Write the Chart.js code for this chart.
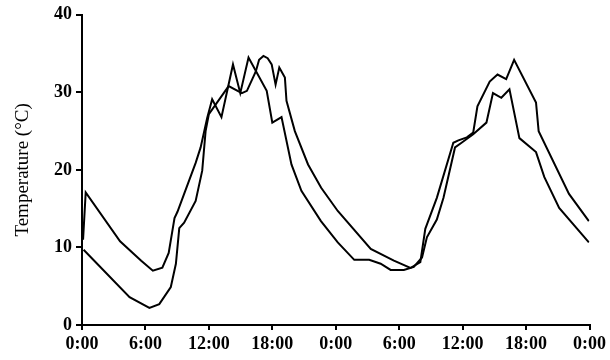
<!DOCTYPE html>
<html><head><meta charset="utf-8">
<script src="https://cdn.jsdelivr.net/npm/chart.js@4/dist/chart.umd.min.js"></script>
<style>html,body{margin:0;padding:0;background:#fff}#wrap{width:610px;height:360px}</style>
</head><body><div id="wrap"><canvas id="c" width="610" height="360"></canvas></div>
<script>
const hoursA = [0.1, 0.35, 3.6, 5.6, 6.7, 7.6, 8.2, 8.75, 9.03, 9.66, 10.75, 11.22, 11.84, 12.31, 13.19, 14.28, 14.97, 15.75, 17.47, 18.0, 18.87, 19.81, 20.75, 22.6, 24.19, 25.75, 27.16, 28.25, 29.19, 30.44, 31.38, 32.16, 32.62, 33.56, 34.19, 35.28, 35.9, 37.0, 38.25, 38.87, 39.66, 40.43, 41.37, 42.94, 43.72, 45.13, 47.94];
const tempA  = [11.0, 17.1, 10.8, 8.3, 7.0, 7.4, 9.3, 13.8, 14.6, 16.9, 20.9, 22.9, 26.7, 29.1, 26.8, 33.6, 29.9, 34.5, 30.2, 26.1, 26.8, 20.7, 17.3, 13.4, 10.65, 8.4, 8.4, 7.9, 7.1, 7.1, 7.5, 8.7, 11.3, 13.6, 16.4, 22.9, 23.5, 24.6, 26.1, 29.9, 29.3, 30.4, 24.1, 22.3, 19.1, 15.1, 10.65];
const hoursB = [0.15, 4.5, 6.375, 7.31, 8.4, 8.88, 9.2, 9.66, 10.75, 11.37, 11.69, 12.0, 13.87, 15.12, 15.6, 16.44, 16.75, 17.16, 17.56, 17.94, 18.31, 18.66, 19.19, 19.34, 20.13, 21.38, 22.62, 24.19, 27.31, 29.5, 31.06, 32.0, 32.47, 33.56, 35.12, 35.6, 36.4, 37.0, 37.4, 38.56, 39.3, 40.12, 40.87, 42.94, 43.19, 46.06, 47.94];
const tempB  = [9.7, 3.6, 2.2, 2.7, 4.9, 7.9, 12.5, 13.2, 16.0, 19.9, 25.0, 27.2, 30.8, 29.9, 30.2, 32.7, 34.2, 34.7, 34.4, 33.6, 31.0, 33.2, 31.9, 28.9, 25.0, 20.7, 17.7, 14.7, 9.8, 8.3, 7.35, 8.1, 12.4, 16.4, 23.5, 23.8, 24.2, 24.8, 28.2, 31.4, 32.3, 31.7, 34.2, 28.7, 25.0, 16.9, 13.4];
const tickHours  = [0, 6, 12, 18, 24, 30, 36, 42, 48];
const tickLabels = ['0:00', '6:00', '12:00', '18:00', '0:00', '6:00', '12:00', '18:00', '0:00'];
const yTicks = [0, 10, 20, 30, 40];
const yTitle = 'Temperature (°C)';

const toPts = (xs, ys) => xs.map((x, i) => ({x: x, y: ys[i]}));
const serif = 'Liberation Serif, Times New Roman, serif';
const lineStyle = {borderColor: '#000', borderWidth: 2, pointRadius: 0, tension: 0, fill: false};

new Chart(document.getElementById('c'), {
  type: 'line',
  data: {datasets: [
    Object.assign({label: 'A', data: toPts(hoursA, tempA)}, lineStyle),
    Object.assign({label: 'B', data: toPts(hoursB, tempB)}, lineStyle)
  ]},
  options: {
    responsive: false, animation: false, devicePixelRatio: 1,
    layout: {padding: {top: 13, right: 16, left: 0, bottom: 0}},
    plugins: {legend: {display: false}, tooltip: {enabled: false}},
    scales: {
      x: {
        type: 'linear', min: 0, max: 48,
        afterBuildTicks: s => { s.ticks = tickHours.map(v => ({value: v})); },
        afterFit: s => { s.height = 35; },
        grid: {display: true, drawOnChartArea: false, drawTicks: true, tickLength: 5, color: '#000', lineWidth: 2},
        border: {display: true, color: '#000', width: 2},
        ticks: {color: '#000', padding: 4, maxRotation: 0, autoSkip: false,
          font: {family: serif, size: 18, weight: 'bold'},
          callback: (v) => { const i = tickHours.indexOf(v); return i >= 0 ? tickLabels[i] : ''; }}
      },
      y: {
        min: 0, max: 40,
        afterBuildTicks: s => { s.ticks = yTicks.map(v => ({value: v})); },
        afterFit: s => { s.width = 82; },
        grid: {display: true, drawOnChartArea: false, drawTicks: true, tickLength: 6, color: '#000', lineWidth: 2},
        border: {display: true, color: '#000', width: 2},
        title: {display: true, text: yTitle, color: '#000', font: {family: serif, size: 19, weight: 'normal'}, padding: {top: 12, bottom: 0}},
        ticks: {color: '#000', padding: 4, font: {family: serif, size: 18, weight: 'bold'}}
      }
    }
  }
});
</script></body></html>
